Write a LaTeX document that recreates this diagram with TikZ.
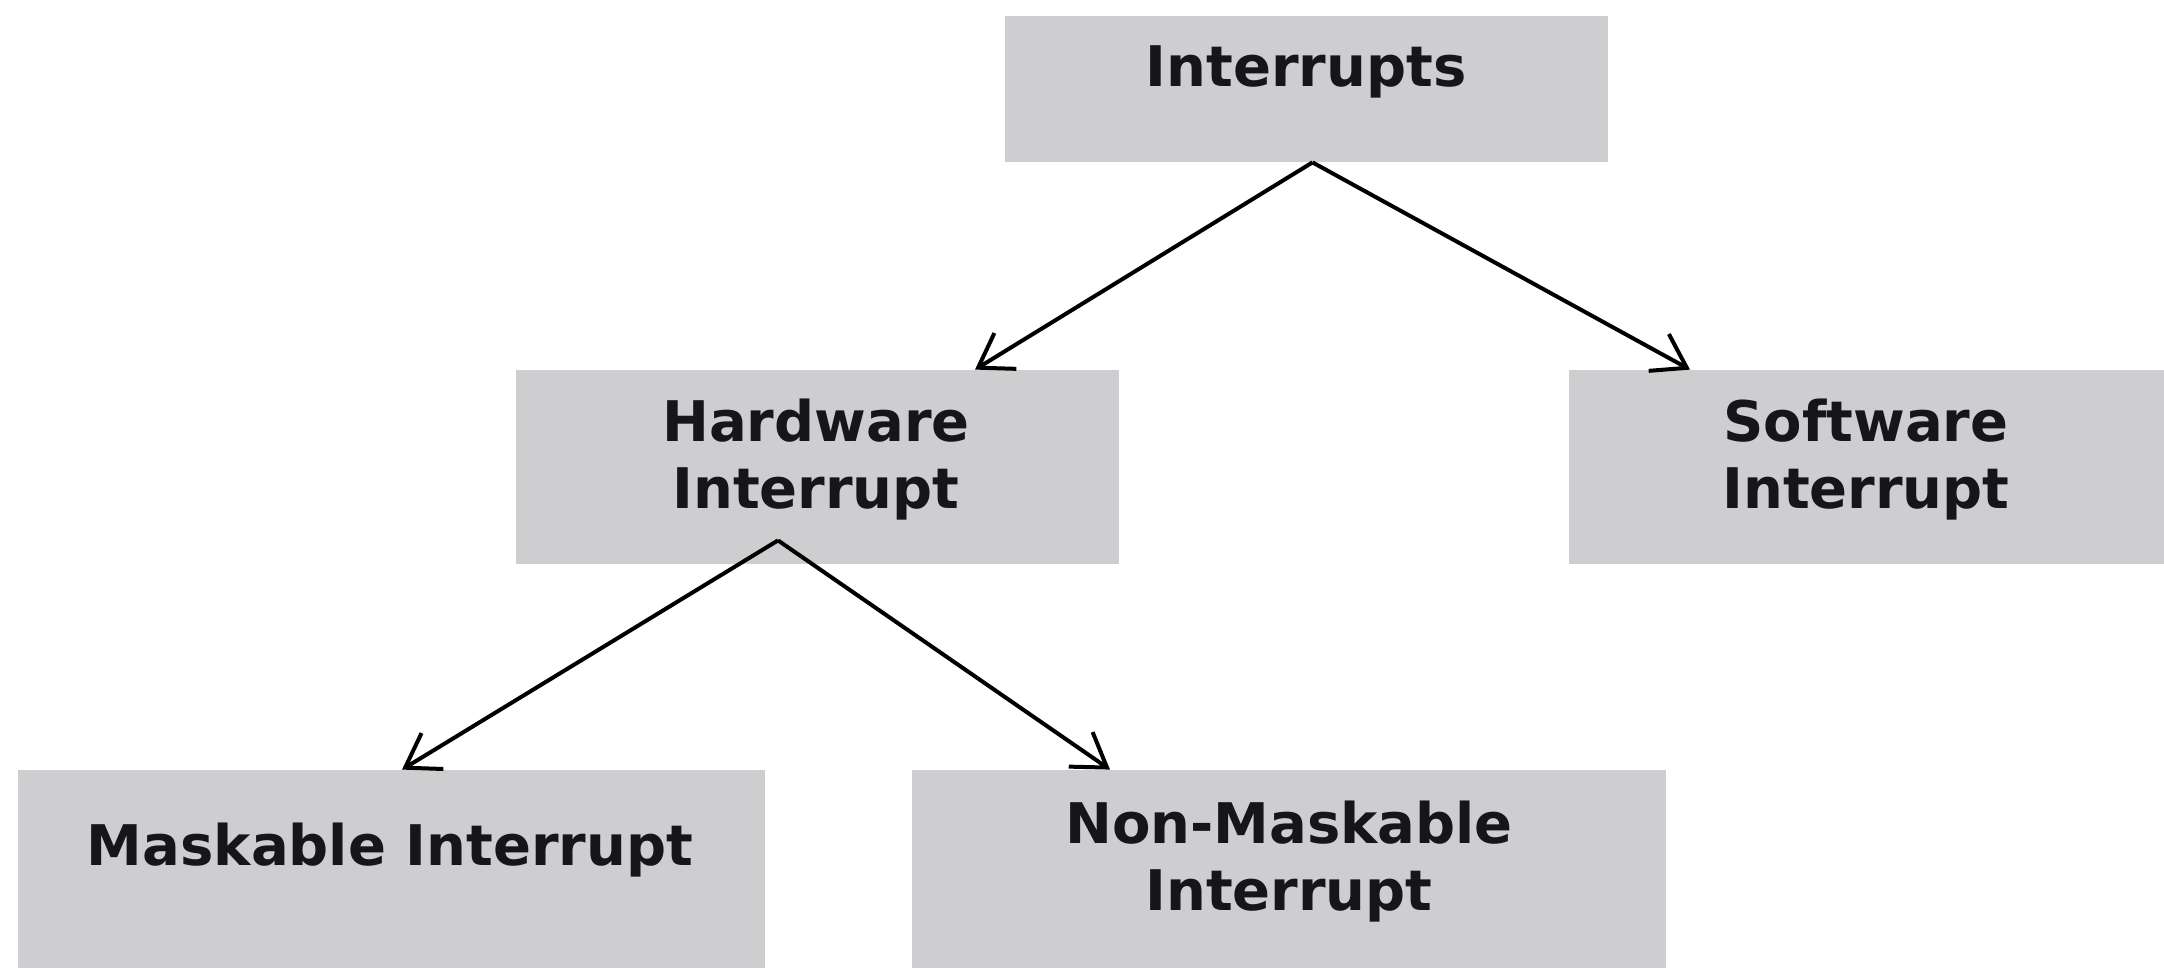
\documentclass[tikz,border=0pt]{standalone}
\usepackage{fontspec}
\setmainfont{DejaVu Sans}
\usetikzlibrary{arrows.meta}
\definecolor{boxgray}{RGB}{206,205,207}
\definecolor{ink}{RGB}{22,22,26}
\tikzset{
  box/.style={fill=boxgray, draw=none, inner sep=0pt},
  txt/.style={text=ink, align=center, inner sep=0pt, font=\fontsize{28}{33.5}\selectfont\bfseries},
  conn/.style={draw=black, line width=2pt, -{Straight Barb[length=16pt,width=21pt,line width=2pt]}}
}
\begin{document}
\begin{tikzpicture}[x=0.5pt,y=-0.5pt]
\useasboundingbox[fill=white] (0,0) rectangle (2164,968);
% boxes
\node[box, minimum width=301.5pt, minimum height=73pt] (int) at (1306.5,89) {};
\node[box, minimum width=301.5pt, minimum height=97pt] (hw) at (817.5,467) {};
\node[box, minimum width=297.5pt, minimum height=97pt] (sw) at (1866.5,467) {};
\node[box, minimum width=373.5pt, minimum height=99pt] (mask) at (391.5,869) {};
\node[box, minimum width=377pt, minimum height=99pt] (nm) at (1289,869) {};
% texts
\node[txt] (tint) at (1306,72) {Interrupts};
\node[txt] (thw) at (816,460) {Hardware\\Interrupt};
\node[txt] (tsw) at (1866,460) {Software\\Interrupt};
\node[txt] (tmask) at (390,850) {Maskable Interrupt};
\node[txt] (tnm) at (1289,862) {Non-Maskable\\Interrupt};
% connectors
\draw[conn] ([xshift=3pt]int.south) -- ([xshift=78.75pt]hw.north);
\draw[conn] ([xshift=3pt]int.south) -- ([xshift=-88.25pt]sw.north);
\draw[conn] ([xshift=-19.75pt,yshift=12pt]hw.south) -- ([xshift=5.25pt]mask.north);
\draw[conn] ([xshift=-19.75pt,yshift=12pt]hw.south) -- ([xshift=-89.5pt]nm.north);
\end{tikzpicture}
\end{document}
